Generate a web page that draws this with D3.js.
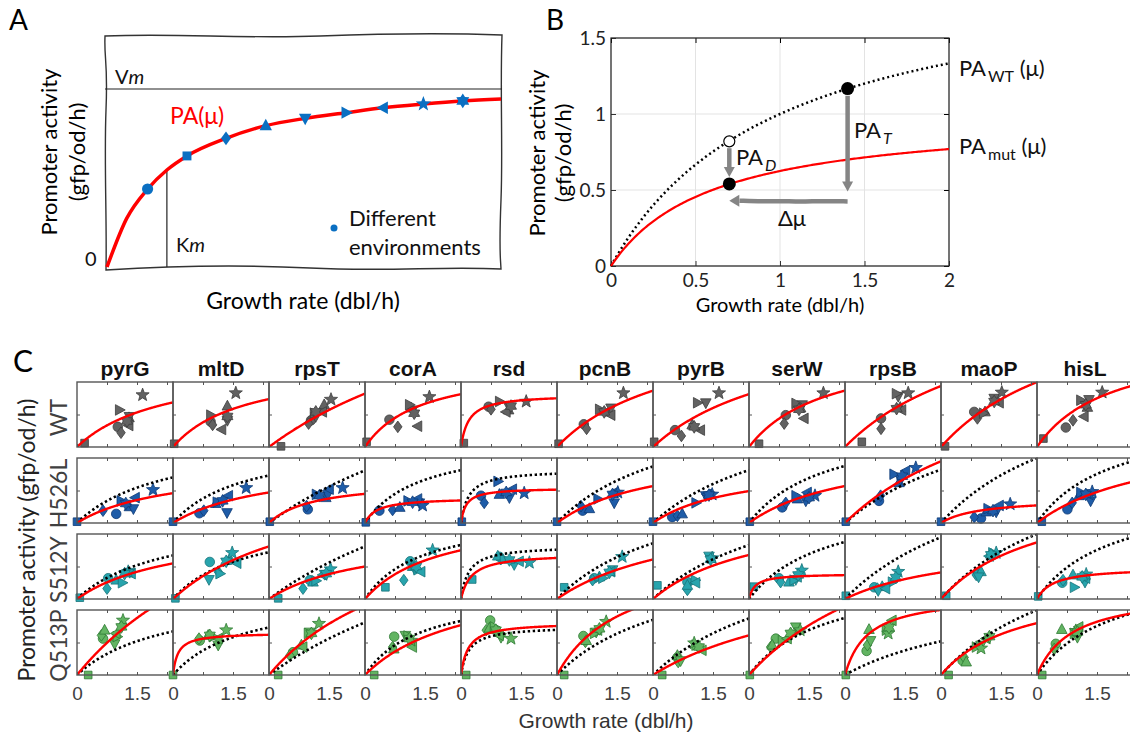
<!DOCTYPE html>
<html><head><meta charset="utf-8">
<script src="https://cdn.jsdelivr.net/npm/d3@7"></script>
<style>body{margin:0;background:#fff}svg{display:block}</style>
</head><body><svg id="c" width="1130" height="732"></svg>
<script>
// ---------------- DATA ----------------
// Panel A (schematic, normalised units: growth 0..1, PA 0..1 with Vm = 1)
const aCurveX = [0, 0.05, 0.103, 0.152, 0.203, 0.302, 0.403, 0.503, 0.607, 0.701, 0.803, 0.903, 1.0];
const aCurveY = [0, 0.273, 0.438, 0.545, 0.624, 0.723, 0.794, 0.835, 0.867, 0.895, 0.916, 0.933, 0.944];
const aMarkerX = [0.103, 0.203, 0.302, 0.403, 0.503, 0.607, 0.701, 0.803, 0.903];
const aMarkerY = [0.438, 0.624, 0.723, 0.794, 0.835, 0.867, 0.895, 0.916, 0.933];
const aKm = 0.152;
// Panel B: Michaelis-Menten parameters [Vm, Km]
const paWT = [2.0, 1.0];
const paMut = [1.0, 0.6];
const bTicksX = [0, 0.5, 1, 1.5, 2];
const bTicksY = [0, 0.5, 1, 1.5];
const bPoints = [[0.7, 0.54], [1.4, 1.167]];
const bOpen = [0.7, 0.82];

// Panel C
const genes = ["pyrG","mltD","rpsT","corA","rsd","pcnB","pyrB","serW","rpsB","maoP","hisL"];
const strains = ["WT","H526L","S512Y","Q513P"];
const shapes = ["circle","square","diamond","triUp","triDown","triRight","triLeft","star","hexagram"];
const cTickLabels = ["0","1.5"];
// fitted [Vm, Km] per gene (PA in panel-relative units, growth in dbl/h)
const fitWT    = [[1.33,2.25],[1.29,1.8],[3.15,6.8],[1.29,1.41],[0.81,0.194],[1.95,3],[2.0,3.5],[1.58,1.97],[2.48,3.94],[2.48,3.56],[1.68,1.86]];
const fitH526L = [[0.91,2.36],[0.96,2.5],[0.66,1.13],[0.39,0.3],[0.54,0.126],[1.16,2.5],[0.92,2.1],[1.2,2.66],[2.69,4.4],[0.38,0.97],[1.43,3.0]];
const fitS512Y = [[1.13,2.55],[1.97,3.44],[1.02,2.5],[1.34,1.89],[0.70,0.26],[1.47,3.4],[1.46,2.77],[0.39,0.15],[0.93,3.06],[1.8,2.56],[0.485,0.42]];
const fitQ513P = [[3.8,5],[0.65,0.122],[2.74,3.72],[1.58,2.54],[0.81,0.18],[1.89,1.65],[1.78,4.6],[2.95,4.28],[1.24,0.57],[1.46,1.99],[1.3,0.88]];
// WT reference curve Vm in each mutant panel's units (Km as in fitWT)
const refH526L = [1.36,1.28,3.1,1.29,0.82,1.96,2.0,1.6,2.17,2.48,1.69];
const refS512Y = [1.30,1.26,3.1,1.32,0.82,1.93,2.04,1.6,2.51,2.48,1.69];
const refQ513P = [1.30,1.28,3.1,1.32,0.75,1.91,2.14,1.6,1.37,2.48,1.69];
// environments per gene, order: circle, square, diamond, triUp, triDown, triRight, triLeft, star, hexagram
const ptsWT = [
 [[1.02,.31],[.19,.06],[1.10,.22],[1.30,.45],[1.31,.47],[1.06,.57],[1.30,.33],[1.64,.80],[1.25,.40]],
 [[.94,.39],[.03,.05],[.99,.34],[1.36,.63],[1.36,.41],[.94,.49],[1.22,.27],[1.57,.83],[1.36,.47]],
 [[1.05,.41],[.30,.01],[.99,.36],[1.38,.65],[1.17,.47],[1.13,.52],[1.34,.54],[1.55,.73],[1.17,.54]],
 [[.61,.42],[.04,.08],[.82,.31],[1.15,.60],[1.19,.57],[1.11,.65],[1.32,.32],[1.61,.77],[1.23,.52]],
 [[.69,.62],[.07,.06],[.75,.58],[1.19,.57],[1.21,.61],[.96,.70],[1.13,.54],[1.63,.70],[1.25,.63]],
 [[.67,.35],[.04,.05],[.74,.28],[1.31,.54],[1.35,.60],[1.06,.58],[1.35,.49],[1.66,.83],[1.18,.54]],
 [[.55,.26],[.03,.08],[.71,.17],[.98,.34],[1.32,.68],[1.11,.68],[1.19,.26],[1.65,.83],[1.03,.31]],
 [[.92,.49],[.25,.05],[.88,.36],[1.29,.60],[1.33,.65],[1.17,.67],[1.38,.44],[1.86,.83],[1.25,.58]],
 [[.90,.44],[.42,.08],[.90,.28],[1.38,.61],[1.33,.78],[1.28,.82],[1.42,.57],[1.58,.83],[1.29,.59]],
 [[.83,.54],[.10,.01],[.91,.44],[1.10,.54],[1.33,.75],[1.06,.52],[1.46,.68],[1.52,.84],[1.33,.70]],
 [[.72,.30],[.16,.13],[.90,.41],[1.26,.61],[1.30,.73],[1.09,.72],[1.18,.47],[1.63,.84],[1.22,.65]]];
const ptsH526L = [
 [[.98,.14],[0,.02],[.65,.19],[1.31,.25],[1.41,.22],[1.10,.34],[1.46,.39],[1.90,.51],[1.22,.30]],
 [[.66,.15],[0,.02],[.77,.19],[1.07,.30],[1.35,.16],[1.10,.32],[1.39,.42],[1.83,.54],[1.24,.34]],
 [[.97,.21],[.02,.02],[.94,.26],[1.42,.39],[1.47,.44],[1.18,.44],[1.51,.52],[1.84,.54],[1.26,.42]],
 [[.36,.19],[.02,.01],[.69,.20],[.87,.24],[1.36,.31],[1.07,.34],[1.32,.37],[1.44,.27],[1.19,.32]],
 [[.50,.42],[.02,.02],[.58,.31],[.96,.44],[1.21,.39],[.92,.64],[1.29,.52],[1.58,.46],[1.13,.47]],
 [[.64,.19],[0,.02],[.60,.26],[.81,.22],[1.43,.31],[1.02,.37],[1.43,.47],[1.52,.47],[1.39,.44]],
 [[.48,.09],[0,.02],[.61,.11],[.73,.14],[1.32,.42],[1.07,.31],[1.36,.44],[1.48,.44],[1.40,.43]],
 [[.83,.24],[.02,.02],[.92,.31],[1.21,.37],[1.42,.34],[1.17,.42],[1.46,.47],[1.65,.42],[1.50,.39]],
 [[.85,.34],[.02,.02],[.89,.42],[1.35,.62],[1.39,.67],[1.22,.75],[1.52,.80],[1.77,.85],[1.43,.72]],
 [[1.0,.07],[0,.02],[.83,.09],[1.13,.17],[1.38,.17],[1.17,.22],[1.46,.27],[1.73,.29],[1.30,.19]],
 [[.76,.21],[.12,.02],[.88,.31],[1.05,.42],[1.34,.34],[1.09,.47],[1.30,.44],[1.38,.48],[1.22,.44]]];
const ptsS512Y = [
 [[.78,.32],[.07,.02],[.75,.16],[.98,.29],[1.32,.41],[1.13,.25],[1.36,.39],[1.28,.42],[1.19,.39]],
 [[.92,.57],[.06,.01],[1.13,.42],[1.42,.62],[.90,.30],[1.17,.39],[1.60,.55],[1.48,.71],[1.33,.58]],
 [[1.02,.29],[.23,.01],[.85,.16],[1.10,.26],[1.39,.38],[1.17,.28],[1.35,.37],[1.54,.46],[1.43,.39]],
 [[1.13,.58],[.51,.18],[.97,.29],[1.19,.50],[1.23,.47],[1.32,.45],[1.40,.42],[1.69,.75],[1.28,.50]],
 [[.96,.65],[.28,.30],[1.0,.62],[.92,.66],[1.33,.53],[1.08,.61],[1.46,.58],[1.71,.56],[1.21,.60]],
 [[.93,.32],[.18,.18],[.89,.29],[1.06,.34],[1.39,.45],[1.14,.32],[1.35,.42],[1.63,.65],[1.31,.41]],
 [[.86,.26],[.11,.21],[.86,.14],[.86,.21],[1.40,.66],[1.05,.29],[1.07,.25],[1.48,.63],[1.44,.61]],
 [[.75,.32],[.12,.19],[.79,.26],[1.0,.26],[1.17,.30],[1.12,.29],[1.21,.34],[1.32,.44],[1.23,.37]],
 [[.73,.18],[.02,.05],[.81,.16],[.93,.19],[.83,.13],[1.18,.26],[1.02,.16],[1.33,.42],[1.27,.33]],
 [[.92,.39],[.13,.05],[.88,.37],[1.0,.42],[.94,.34],[1.29,.71],[1.21,.66],[1.38,.71],[1.25,.68]],
 [[.63,.25],[.03,.04],[.65,.29],[.90,.37],[1.20,.26],[.93,.18],[1.22,.32],[1.23,.38],[1.13,.34]]];
const ptsQ513P = [
 [[.65,.56],[.28,0],[.61,.61],[.69,.69],[.94,.48],[1.0,.59],[.98,.64],[1.15,.84],[1.11,.74]],
 [[.67,.53],[0,0],[.65,.56],[.88,.61],[1.13,.46],[1.0,.59],[1.13,.56],[1.33,.69],[.92,.61]],
 [[.60,.35],[.23,0],[.52,.30],[.81,.46],[1.02,.66],[.98,.64],[.85,.43],[1.25,.79],[1.06,.64]],
 [[.73,.59],[.23,0],[.69,.43],[.72,.40],[1.01,.61],[1.07,.60],[1.19,.43],[1.15,.53],[1.11,.56]],
 [[.73,.84],[.13,0],[.63,.69],[.71,.72],[1.0,.58],[.83,.74],[.96,.61],[1.25,.56],[.87,.69]],
 [[.66,.60],[.18,0],[.71,.51],[.73,.53],[.98,.66],[.93,.64],[1.02,.69],[1.23,.82],[1.06,.71]],
 [[.61,.27],[.23,0],[.63,.20],[.61,.30],[.69,.22],[1.07,.46],[1.23,.38],[1.03,.49],[1.15,.43]],
 [[.67,.56],[.02,0],[.54,.43],[.58,.46],[1.17,.74],[.83,.53],[.96,.56],[1.28,.69],[1.04,.64]],
 [[.54,.37],[.02,0],[.56,.46],[.60,.70],[.64,.53],[1.03,.69],[1.18,.84],[1.08,.64],[1.10,.73]],
 [[.54,.22],[.19,0],[.58,.27],[.63,.20],[1.0,.46],[.88,.43],[1.13,.56],[1.0,.41],[1.21,.59]],
 [[.47,.48],[.13,0],[.43,.40],[.62,.70],[1.01,.58],[.93,.64],[1.05,.74],[.97,.68],[1.01,.66]]];
const fills   = ["#626262","#1e5ca8","#28a4ad","#62b462"];
const strokes = ["#3c3c3c","#0e3a75","#16747a","#2f7a33"];

// ---------------- HELPERS ----------------
const svg = d3.select("#c");
const SANS = "Lato, 'Open Sans', sans-serif";
const ARIAL = "'Liberation Sans', Arial, sans-serif";

function shapePath(type, s) {
  const f = v => v.toFixed(2);
  const poly = pts => "M" + pts.map(p => f(p[0]) + "," + f(p[1])).join("L") + "Z";
  switch (type) {
    case "circle": return `M${s*0.9},0A${s*0.9},${s*0.9} 0 1,1 ${-s*0.9},0A${s*0.9},${s*0.9} 0 1,1 ${s*0.9},0Z`;
    case "square": { const a = s*0.72; return poly([[-a,-a],[a,-a],[a,a],[-a,a]]); }
    case "diamond": return poly([[0,-s*1.1],[s*0.8,0],[0,s*1.1],[-s*0.8,0]]);
    case "triUp": return poly([[0,-s*1.1],[s*1.0,s*0.75],[-s*1.0,s*0.75]]);
    case "triDown": return poly([[0,s*1.1],[s*1.0,-s*0.75],[-s*1.0,-s*0.75]]);
    case "triRight": return poly([[s*1.1,0],[-s*0.75,s*1.0],[-s*0.75,-s*1.0]]);
    case "triLeft": return poly([[-s*1.1,0],[s*0.75,s*1.0],[s*0.75,-s*1.0]]);
    case "star": {
      const R = s*1.3, r = R*0.42, pts = [];
      for (let i = 0; i < 10; i++) { const a = -Math.PI/2 + i*Math.PI/5, rr = i%2 ? r : R; pts.push([rr*Math.cos(a), rr*Math.sin(a)]); }
      return poly(pts);
    }
    case "hexagram": {
      const R = s*1.2, r = R*0.6, pts = [];
      for (let i = 0; i < 12; i++) { const a = -Math.PI/2 + i*Math.PI/6, rr = i%2 ? r : R; pts.push([rr*Math.cos(a), rr*Math.sin(a)]); }
      return poly(pts);
    }
  }
}
function mmCurve(V, K, xmax) {
  return d3.range(0, Math.round(xmax*100)+1).map(i => { const m = i/100; return [m, V*m/(K+m)]; });
}

// ---------------- PANEL LETTERS ----------------
svg.append("text").attr("x", 9).attr("y", 30).text("A").attr("font-family", SANS).attr("font-size", 28);
svg.append("text").attr("x", 546).attr("y", 30).text("B").attr("font-family", SANS).attr("font-size", 28);
svg.append("text").attr("x", 13).attr("y", 372).text("C").attr("font-family", SANS).attr("font-size", 30);

// ---------------- PANEL A ----------------
(function () {
  const xA = d3.scaleLinear([0, 1], [107, 501]);
  const yA = d3.scaleLinear([0, 1], [267, 89]);
  const g = svg.append("g");
  // hand-drawn frame
  g.append("path")
    .attr("d", "M105,36 C180,33 240,39 320,36 S450,33 502,35 C500,90 503,150 501,200 S500,250 501,269 C440,266 390,272 310,268 S170,266 106,270 C107,220 104,160 106,110 S104,60 105,36 Z")
    .attr("fill", "none").attr("stroke", "#333").attr("stroke-width", 1.4);
  g.append("line").attr("x1", 105).attr("x2", 502).attr("y1", yA(1)).attr("y2", yA(1)).attr("stroke", "#222").attr("stroke-width", 1.2);
  g.append("line").attr("x1", xA(aKm)).attr("x2", xA(aKm)).attr("y1", yA(0)).attr("y2", yA(0.545)).attr("stroke", "#222").attr("stroke-width", 1.2);
  const line = d3.line().x(d => xA(d[0])).y(d => yA(d[1])).curve(d3.curveMonotoneX);
  g.append("path").attr("d", line(aCurveX.map((x, i) => [x, aCurveY[i]])))
    .attr("fill", "none").attr("stroke", "#ff0000").attr("stroke-width", 3.5);
  aMarkerX.forEach((x, i) => {
    g.append("path").attr("d", shapePath(shapes[i], 6.2))
      .attr("transform", `translate(${xA(x)},${yA(aMarkerY[i])})`).attr("fill", "#0a6fc2");
  });
  const t = (x, y, s, fs, col) => g.append("text").attr("x", x).attr("y", y).attr("font-family", SANS).attr("font-size", fs).attr("fill", col || "#111").text(s);
  const vm = t(115, 84, "V", 20); vm.append("tspan").attr("font-style", "italic").text("m");
  const km = t(176, 252, "K", 20); km.append("tspan").attr("font-style", "italic").text("m");
  t(170, 124, "PA(μ)", 23, "#ff0000");
  t(85, 266, "0", 20);
  g.append("circle").attr("cx", 334).attr("cy", 228).attr("r", 3.5).attr("fill", "#0a6fc2");
  t(349, 226, "Different", 22);
  t(349, 255, "environments", 22);
  g.append("text").attr("transform", "translate(57,152) rotate(-90)").attr("text-anchor", "middle")
    .attr("font-family", SANS).attr("font-size", 22).text("Promoter activity");
  g.append("text").attr("transform", "translate(85,152) rotate(-90)").attr("text-anchor", "middle")
    .attr("font-family", SANS).attr("font-size", 22).text("(gfp/od/h)");
  g.append("text").attr("x", 303).attr("y", 309).attr("text-anchor", "middle")
    .attr("font-family", SANS).attr("font-size", 23).text("Growth rate (dbl/h)");
})();

// ---------------- PANEL B ----------------
(function () {
  const xB = d3.scaleLinear([0, 2], [611, 949]);
  const yB = d3.scaleLinear([0, 1.5], [266, 38]);
  const g = svg.append("g");
  bTicksX.forEach(v => g.append("line").attr("x1", xB(v)).attr("x2", xB(v)).attr("y1", yB(0)).attr("y2", yB(1.5)).attr("stroke", "#e3e3e3"));
  bTicksY.forEach(v => g.append("line").attr("y1", yB(v)).attr("y2", yB(v)).attr("x1", xB(0)).attr("x2", xB(2)).attr("stroke", "#e3e3e3"));
  const ax = g.append("g").attr("transform", `translate(0,${yB(0)})`)
    .call(d3.axisBottom(xB).tickValues(bTicksX).tickSize(-5).tickPadding(8).tickFormat(d3.format("")));
  const ay = g.append("g").attr("transform", `translate(${xB(0)},0)`)
    .call(d3.axisLeft(yB).tickValues(bTicksY).tickSize(-5).tickPadding(5).tickFormat(d3.format("")));
  [ax, ay].forEach(a => { a.select(".domain").remove(); a.selectAll("text").attr("font-family", SANS).attr("font-size", 19).attr("fill", "#222"); a.selectAll("line").attr("stroke", "#333"); });
  g.append("g").attr("transform", `translate(0,${yB(1.5)})`).call(d3.axisTop(xB).tickValues(bTicksX).tickSize(-5).tickFormat("")).call(a => a.select(".domain").remove());
  g.append("g").attr("transform", `translate(${xB(2)},0)`).call(d3.axisRight(yB).tickValues(bTicksY).tickSize(-5).tickFormat("")).call(a => a.select(".domain").remove());
  g.append("rect").attr("x", xB(0)).attr("y", yB(1.5)).attr("width", xB(2) - xB(0)).attr("height", yB(0) - yB(1.5))
    .attr("fill", "none").attr("stroke", "#222").attr("stroke-width", 1.2);
  const line = d3.line().x(d => xB(d[0])).y(d => yB(d[1]));
  g.append("path").attr("d", line(mmCurve(paWT[0], paWT[1], 2))).attr("fill", "none").attr("stroke", "#000")
    .attr("stroke-width", 2.5).attr("stroke-dasharray", "2,3");
  g.append("path").attr("d", line(mmCurve(paMut[0], paMut[1], 2))).attr("fill", "none").attr("stroke", "#ff0000").attr("stroke-width", 2.2);
  // arrows
  const gray = "#858585";
  const arrowV = (x, y1, y2) => {
    g.append("line").attr("x1", xB(x)).attr("x2", xB(x)).attr("y1", yB(y1)).attr("y2", yB(y2) - 8).attr("stroke", gray).attr("stroke-width", 4.5);
    g.append("path").attr("d", `M${xB(x)-5.5},${yB(y2)-10}L${xB(x)+5.5},${yB(y2)-10}L${xB(x)},${yB(y2)}Z`).attr("fill", gray);
  };
  arrowV(0.7, 0.775, 0.585);
  arrowV(1.4, 1.12, 0.49);
  const wav = d3.line().x(d => xB(d[0])).y(d => yB(d[1])).curve(d3.curveBasis);
  g.append("path").attr("d", wav([[1.4, 0.425], [1.25, 0.428], [1.12, 0.422], [1.0, 0.428], [0.9, 0.424], [0.76, 0.43]]))
    .attr("fill", "none").attr("stroke", gray).attr("stroke-width", 4.5);
  g.append("path").attr("d", `M${xB(0.7)},${yB(0.43)}L${xB(0.7)+10},${yB(0.43)-6}L${xB(0.7)+10},${yB(0.43)+6}Z`).attr("fill", gray);
  bPoints.forEach(p => g.append("circle").attr("cx", xB(p[0])).attr("cy", yB(p[1])).attr("r", 6.5).attr("fill", "#000"));
  g.append("circle").attr("cx", xB(bOpen[0])).attr("cy", yB(bOpen[1])).attr("r", 5.5).attr("fill", "#fff").attr("stroke", "#000").attr("stroke-width", 1.2);
  const lab = (x, y, main, sub, tail, italicSub) => {
    const t = g.append("text").attr("x", x).attr("y", y).attr("font-family", SANS).attr("font-size", 22).attr("fill", "#111").text(main);
    const s = t.append("tspan").attr("font-size", 16).attr("dy", 6).attr("dx", 2).text(sub);
    if (italicSub) s.attr("font-style", "italic");
    if (tail) t.append("tspan").attr("dy", -6).text(tail);
  };
  lab(959, 76, "PA", "WT", " (μ)", false);
  lab(959, 154, "PA", "mut", " (μ)", false);
  lab(736, 165, "PA", "D", null, true);
  lab(854, 138, "PA", "T", null, true);
  g.append("text").attr("x", 778).attr("y", 226).attr("font-family", SANS).attr("font-size", 22).attr("fill", "#111").text("Δμ");
  g.append("text").attr("transform", "translate(545,153) rotate(-90)").attr("text-anchor", "middle")
    .attr("font-family", SANS).attr("font-size", 22).text("Promoter activity");
  g.append("text").attr("transform", "translate(571,153) rotate(-90)").attr("text-anchor", "middle")
    .attr("font-family", SANS).attr("font-size", 22).text("(gfp/od/h)");
  g.append("text").attr("x", 780).attr("y", 312).attr("text-anchor", "middle")
    .attr("font-family", SANS).attr("font-size", 20).text("Growth rate (dbl/h)");
})();

// ---------------- PANEL C ----------------
(function () {
  const left0 = 77, colW = 96, rowTops = [382, 458, 534, 610], rowH = 65;
  const fits = [fitWT, fitH526L, fitS512Y, fitQ513P];
  const refs = [null, refH526L, refS512Y, refQ513P];
  const pts = [ptsWT, ptsH526L, ptsS512Y, ptsQ513P];
  const defs = svg.append("defs");
  genes.forEach((gn, c) => {
    svg.append("text").attr("x", left0 + c*colW + colW/2).attr("y", 376).attr("text-anchor", "middle")
      .attr("font-family", ARIAL).attr("font-weight", "bold").attr("font-size", 21).attr("fill", "#111").text(gn);
  });
  strains.forEach((st, r) => {
    const y0 = rowTops[r];
    svg.append("text").attr("transform", `translate(67,${y0 + rowH/2 + 3}) rotate(-90)`).attr("text-anchor", "middle")
      .attr("font-family", SANS).attr("font-size", 23).attr("fill", "#404040").text(st);
    genes.forEach((gn, c) => {
      const x0 = left0 + c*colW;
      const xs = d3.scaleLinear([0, 2.4], [x0, x0 + colW]);
      const ys = d3.scaleLinear([0, 1], [y0 + rowH, y0]);
      const id = `clip${r}_${c}`;
      defs.append("clipPath").attr("id", id).append("rect").attr("x", x0).attr("y", y0).attr("width", colW).attr("height", rowH);
      const g = svg.append("g");
      // markers
      pts[r][c].forEach((p, k) => {
        g.append("path").attr("d", shapePath(shapes[k], 5.3)).attr("transform", `translate(${xs(p[0])},${ys(p[1])})`)
          .attr("fill", fills[r]).attr("stroke", strokes[r]).attr("stroke-width", 0.8);
      });
      const line = d3.line().x(d => xs(d[0])).y(d => ys(d[1]));
      const cg = g.append("g").attr("clip-path", `url(#${id})`);
      if (refs[r]) {
        cg.append("path").attr("d", line(mmCurve(refs[r][c], fitWT[c][1], 2.4))).attr("fill", "none")
          .attr("stroke", "#000").attr("stroke-width", 2.6).attr("stroke-dasharray", "2.4,2.6");
      }
      cg.append("path").attr("d", line(mmCurve(fits[r][c][0], fits[r][c][1], 2.4))).attr("fill", "none")
        .attr("stroke", "#ff0000").attr("stroke-width", 2.4);
      // axes
      const last = r === strains.length - 1;
      const bx = g.append("g").attr("transform", `translate(0,${y0 + rowH})`)
        .call(d3.axisBottom(xs).tickValues([0, 0.75, 1.5, 2.25]).tickSize(-3).tickPadding(12)
          .tickFormat(d => last ? (d === 0 ? cTickLabels[0] : d === 1.5 ? cTickLabels[1] : "") : ""));
      const tx = g.append("g").attr("transform", `translate(0,${y0})`)
        .call(d3.axisTop(xs).tickValues([0.75, 1.5, 2.25]).tickSize(-3).tickFormat(""));
      const ly = g.append("g").attr("transform", `translate(${x0},0)`)
        .call(d3.axisLeft(ys).tickValues([0.5]).tickSize(-3).tickFormat(""));
      [bx, tx, ly].forEach(a => { a.select(".domain").remove(); a.selectAll("line").attr("stroke", "#555"); });
      bx.selectAll("text").attr("font-family", ARIAL).attr("font-size", 19).attr("fill", "#404040");
      g.append("rect").attr("x", x0).attr("y", y0).attr("width", colW).attr("height", rowH)
        .attr("fill", "none").attr("stroke", "#555").attr("stroke-width", 1.4);
    });
  });
  svg.append("text").attr("transform", "translate(35,540) rotate(-90)").attr("text-anchor", "middle")
    .attr("font-family", SANS).attr("font-size", 23).attr("fill", "#222").text("Promoter activity (gfp/od/h)");
  svg.append("text").attr("x", 606).attr("y", 728).attr("text-anchor", "middle")
    .attr("font-family", ARIAL).attr("font-size", 21).attr("fill", "#333").text("Growth rate (dbl/h)");
})();
</script></body></html>
